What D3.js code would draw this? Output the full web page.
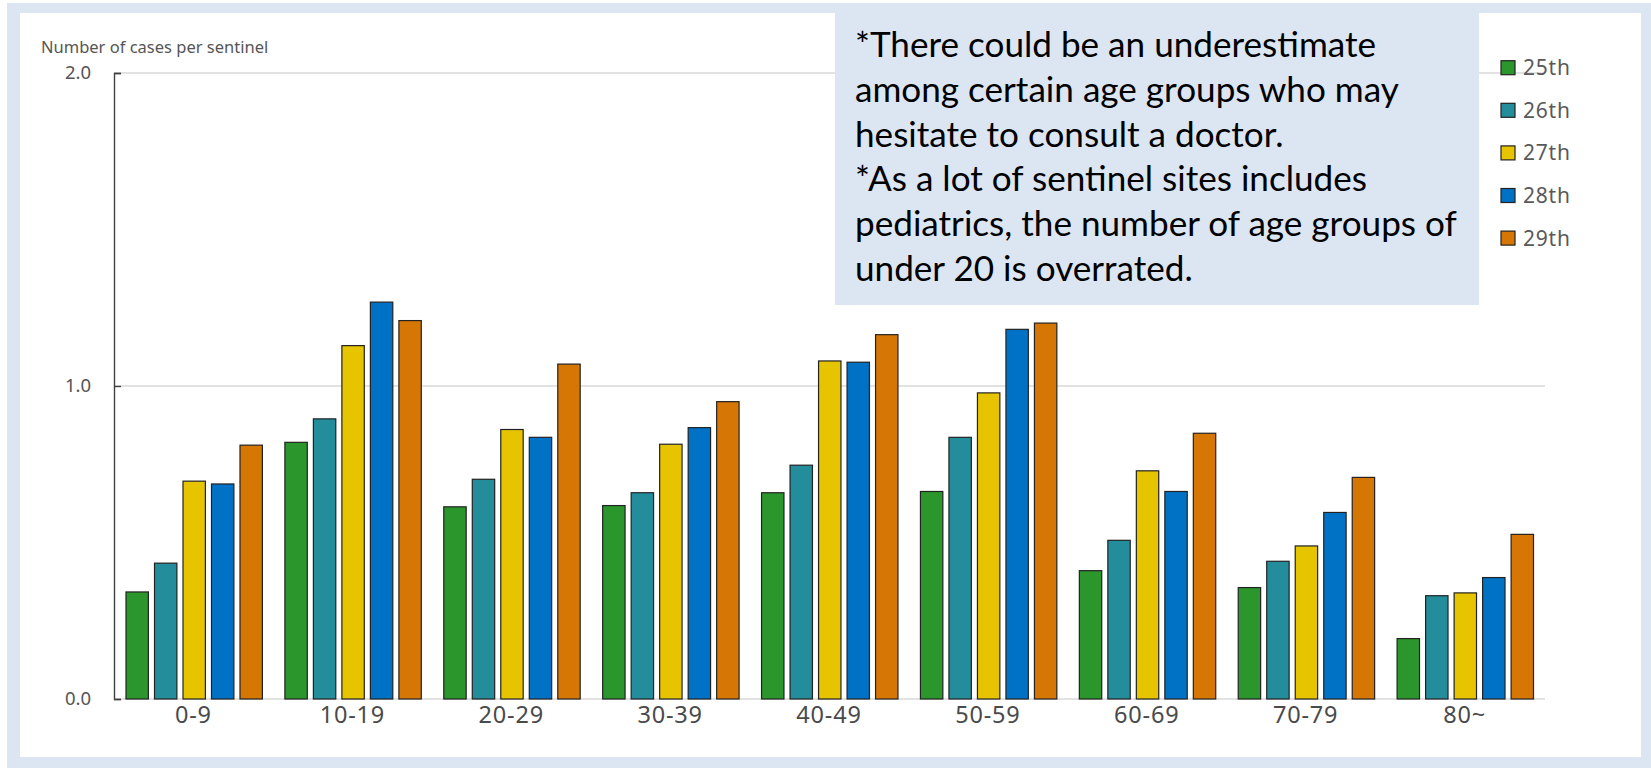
<!DOCTYPE html>
<html>
<head>
<meta charset="utf-8">
<script src="https://cdn.jsdelivr.net/npm/d3@7.9.0/dist/d3.min.js"></script>
<style>
  body { margin: 0; background: #fff; }
  svg { display: block; }
</style>
</head>
<body>
<svg id="chart" width="1651" height="768"></svg>
<script>
// Data
const ageGroups = ['0-9', '10-19', '20-29', '30-39', '40-49', '50-59', '60-69', '70-79', '80~'];
const weeks = ['25th', '26th', '27th', '28th', '29th'];
const week25 = [0.342, 0.820, 0.614, 0.618, 0.659, 0.663, 0.410, 0.356, 0.193];
const week26 = [0.434, 0.895, 0.702, 0.659, 0.747, 0.836, 0.507, 0.440, 0.330];
const week27 = [0.696, 1.129, 0.861, 0.814, 1.080, 0.978, 0.729, 0.489, 0.339];
const week28 = [0.687, 1.268, 0.836, 0.867, 1.076, 1.181, 0.663, 0.596, 0.388];
const week29 = [0.811, 1.209, 1.070, 0.950, 1.164, 1.201, 0.849, 0.708, 0.526];
const yTicks = [0, 1, 2];
const yTitle = 'Number of cases per sentinel';
const noteLines = [
  '*There could be an underestimate',
  'among certain age groups who may',
  'hesitate to consult a doctor.',
  '*As a lot of sentinel sites includes',
  'pediatrics, the number of age groups of',
  'under 20 is overrated.'
];

const seriesValues = [week25, week26, week27, week28, week29];
const colors = d3.scaleOrdinal()
  .domain(weeks)
  .range(['#2a962b', '#238d9c', '#e6c500', '#0072c6', '#d67604']);

const svg = d3.select('#chart');

// Frame
svg.append('rect').attr('x', 7).attr('y', 3).attr('width', 1644).attr('height', 765).attr('fill', '#dce6f2');
svg.append('rect').attr('x', 20).attr('y', 13).attr('width', 1621).attr('height', 744).attr('fill', '#fff');

// Scales
const x0 = d3.scaleBand().domain(ageGroups).range([114, 1544]);
const x1 = d3.scaleBand().domain(weeks).range([12, 148.4]).paddingInner(0.214);
const y = d3.scaleLinear().domain([0, 2]).range([699, 73]);

// Gridlines
svg.append('g')
  .selectAll('line')
  .data(yTicks)
  .join('line')
  .attr('x1', 114)
  .attr('x2', 1545)
  .attr('y1', (d) => y(d))
  .attr('y2', (d) => y(d))
  .attr('stroke', '#d9d9d9')
  .attr('stroke-width', 1.5);

// Y axis
const yAxis = svg.append('g')
  .attr('transform', 'translate(114,0)')
  .call(d3.axisRight(y).tickValues(yTicks).tickSize(7).tickFormat(''));
yAxis.select('.domain').attr('stroke', '#404040').attr('stroke-width', 1.4);
yAxis.selectAll('.tick line').attr('stroke', '#404040').attr('stroke-width', 1.4);

svg.append('g')
  .selectAll('text')
  .data(yTicks)
  .join('text')
  .attr('x', 91)
  .attr('y', (d) => y(d))
  .attr('dy', '0.35em')
  .attr('text-anchor', 'end')
  .attr('font-family', 'Noto Sans, sans-serif')
  .attr('font-size', 18.5)
  .attr('fill', '#555')
  .text((d) => d3.format('.1f')(d));

svg.append('text')
  .attr('x', 41)
  .attr('y', 53)
  .attr('font-family', 'Noto Sans, sans-serif')
  .attr('font-size', 16.5)
  .attr('fill', '#555')
  .text(yTitle);

// Bars
const groups = svg.append('g')
  .selectAll('g')
  .data(ageGroups)
  .join('g')
  .attr('transform', (d) => `translate(${x0(d)},0)`);

groups.selectAll('rect')
  .data((d, i) => weeks.map((w, j) => ({ week: w, value: seriesValues[j][i] })))
  .join('rect')
  .attr('x', (d) => x1(d.week))
  .attr('y', (d) => y(d.value))
  .attr('width', x1.bandwidth())
  .attr('height', (d) => y(0) - y(d.value))
  .attr('fill', (d) => colors(d.week))
  .attr('stroke', '#222')
  .attr('stroke-width', 1.2);

// Category labels
svg.append('g')
  .selectAll('text')
  .data(ageGroups)
  .join('text')
  .attr('x', (d) => x0(d) + x0.bandwidth() / 2)
  .attr('y', 723)
  .attr('text-anchor', 'middle')
  .attr('font-family', 'Noto Sans, sans-serif')
  .attr('font-size', 23.5)
  .attr('letter-spacing', 0.8)
  .attr('fill', '#4a4a4a')
  .text((d) => d);

// Note box
svg.append('rect')
  .attr('x', 835).attr('y', 13).attr('width', 644).attr('height', 292)
  .attr('fill', '#dce6f2');

const note = svg.append('g')
  .selectAll('text')
  .data(noteLines)
  .join('text')
  .attr('x', 855)
  .attr('y', (d, i) => 57 + i * 44.8)
  .attr('font-family', 'Lato, sans-serif')
  .attr('font-size', 30)
  .attr('fill', '#000')
  .text((d) => d);

// fit the longest line to the width it has in the picture
const longest = note.filter((d, i) => i === 4).node().getComputedTextLength();
note.attr('font-size', 30 * 602 / longest);

// Legend
const legend = svg.append('g')
  .selectAll('g')
  .data(weeks)
  .join('g')
  .attr('transform', (d, i) => `translate(1501,${67.7 + i * 42.6})`);

legend.append('rect')
  .attr('x', 0).attr('y', -7)
  .attr('width', 14).attr('height', 14)
  .attr('fill', (d) => colors(d))
  .attr('stroke', '#222')
  .attr('stroke-width', 1.2);

legend.append('text')
  .attr('x', 22)
  .attr('y', 7.5)
  .attr('font-family', 'Noto Sans, sans-serif')
  .attr('font-size', 21)
  .attr('letter-spacing', 0.8)
  .attr('fill', '#595959')
  .text((d) => d);
</script>
</body>
</html>
